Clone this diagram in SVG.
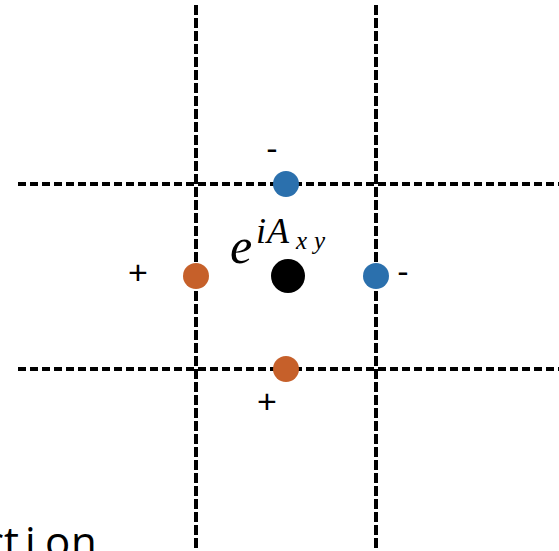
<svg xmlns="http://www.w3.org/2000/svg" width="559" height="551" viewBox="0 0 559 551">
<style>
.grid{stroke:#000;stroke-width:4;fill:none}
.v{stroke-dasharray:10 3}
.h{stroke-dasharray:8 4}
.lbl{font-family:"Liberation Sans",Arial,sans-serif;font-size:34px;fill:#000;text-anchor:middle}
.blue{fill:#2b70ad}
.orange{fill:#c6602a}
.m{font-family:"Liberation Serif","Times New Roman",serif;font-style:italic;fill:#000}
</style>
<rect width="559" height="551" fill="#fff"/>
<g id="connectors">
<line class="grid v" x1="196" y1="5" x2="196" y2="551"/>
<line class="grid v" x1="376" y1="5" x2="376" y2="551"/>
<line class="grid h" x1="18" y1="184" x2="559" y2="184"/>
<line class="grid h" x1="18" y1="369" x2="559" y2="369"/>
</g>
<g id="top-blue"><circle class="blue" cx="286" cy="184" r="13"/><text class="lbl" x="272" y="160">-</text></g>
<g id="left-orange"><circle class="orange" cx="196" cy="276" r="13"/><text class="lbl" x="138" y="284">+</text></g>
<g id="center"><circle cx="288" cy="276" r="17" fill="#000"/>
<text class="m"><tspan x="230" y="263" font-size="50">e</tspan><tspan x="256" y="243" font-size="36">i</tspan><tspan x="267" y="243" font-size="36">A</tspan><tspan x="296" y="249" font-size="25">x</tspan><tspan x="314" y="249" font-size="25">y</tspan></text></g>
<g id="right-blue"><circle class="blue" cx="376" cy="276" r="13"/><text class="lbl" x="403" y="283">-</text></g>
<g id="bottom-orange"><circle class="orange" cx="286" cy="369" r="13"/><text class="lbl" x="267" y="413">+</text></g>
<text x="-16 4 25 45 71" y="557" font-family="'Open Sans','Noto Sans',sans-serif" font-size="42" fill="#000">ction</text>
</svg>
